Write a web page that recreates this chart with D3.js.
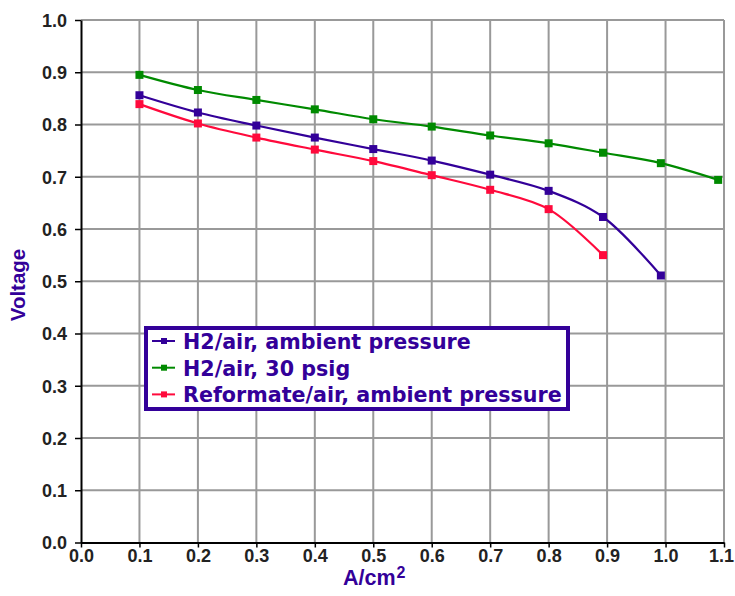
<!DOCTYPE html>
<html><head><meta charset="utf-8">
<script src="https://cdn.jsdelivr.net/npm/d3@7"></script>
<style>body{margin:0;background:#fff}svg{display:block}</style>
</head><body><svg id="c" width="735" height="596"></svg>
<script>
const xValues = [0.1,0.2,0.3,0.4,0.5,0.6,0.7,0.8,0.893,0.992,1.09];
const h2Ambient = [0.856,0.823,0.798,0.775,0.753,0.731,0.704,0.673,0.623,0.511];
const h2Psig = [0.895,0.866,0.847,0.829,0.810,0.796,0.779,0.764,0.746,0.726,0.694];
const reformate = [0.839,0.802,0.775,0.752,0.730,0.703,0.675,0.638,0.550];
const seriesNames = ["H2/air, ambient pressure","H2/air, 30 psig","Reformate/air, ambient pressure"];
const seriesColors = ["#330099","#008a00","#ff0a3c"];
const xTicks = [0,0.1,0.2,0.3,0.4,0.5,0.6,0.7,0.8,0.9,1.0,1.1];
const yTicks = [0,0.1,0.2,0.3,0.4,0.5,0.6,0.7,0.8,0.9,1.0];

const svg = d3.select("#c");
const L=81,R=724,T=20,B=542.5;
const x = d3.scaleLinear().domain([0,1.1]).range([L,R]);
const y = d3.scaleLinear().domain([0,1.0]).range([B,T]);

// grid
svg.append("g").selectAll("line").data(xTicks.slice(1)).join("line")
 .attr("x1",d=>x(d)).attr("x2",d=>x(d)).attr("y1",T).attr("y2",B)
 .attr("stroke","#999").attr("stroke-width",2);
svg.append("g").selectAll("line").data(yTicks.slice(1)).join("line")
 .attr("x1",L).attr("x2",R).attr("y1",d=>y(d)).attr("y2",d=>y(d))
 .attr("stroke","#999").attr("stroke-width",2);

const fnt = "'Liberation Sans',Arial,sans-serif";
const xa = svg.append("g").attr("transform",`translate(0,${B})`)
 .call(d3.axisBottom(x).tickValues(xTicks).tickFormat(d3.format(".1f")).tickSize(5).tickSizeOuter(0));
const ya = svg.append("g").attr("transform",`translate(${L},0)`)
 .call(d3.axisLeft(y).tickValues(yTicks).tickFormat(d3.format(".1f")).tickSize(6).tickSizeOuter(0));
[xa,ya].forEach(a=>{
 a.select(".domain").attr("stroke","#000").attr("stroke-width",2);
 a.selectAll(".tick line").attr("stroke","#000").attr("stroke-width",1.5);
 a.selectAll("text").attr("font-family",fnt).attr("font-weight","bold").attr("font-size",18).attr("fill","#222");
});
xa.selectAll("text").attr("dy","0.72em").attr("y",7);
xa.selectAll(".tick text").filter(d=>d===1.1).attr("dx",-3);
ya.selectAll("text").attr("x",-14).attr("dy","0.36em");

const all = [h2Ambient,h2Psig,reformate];
const line = d3.line().x((d,i)=>x(xValues[i])).y(d=>y(d)).curve(d3.curveCatmullRom.alpha(0.5));
all.forEach((s,k)=>{
 const g = svg.append("g");
 g.append("path").datum(s).attr("d",line).attr("fill","none").attr("stroke",seriesColors[k]).attr("stroke-width",2.2);
 g.selectAll("rect").data(s).join("rect")
  .attr("x",(d,i)=>x(xValues[i])-4).attr("y",d=>y(d)-4).attr("width",8).attr("height",8)
  .attr("fill",seriesColors[k]);
});

// legend
const lg = svg.append("g");
lg.append("rect").attr("x",146).attr("y",328).attr("width",422).attr("height",81)
 .attr("fill","#fff").attr("stroke","#330099").attr("stroke-width",4);
seriesNames.forEach((n,k)=>{
 const yy = 341 + k*26.7;
 lg.append("line").attr("x1",152).attr("x2",175).attr("y1",yy).attr("y2",yy).attr("stroke",seriesColors[k]).attr("stroke-width",2);
 lg.append("rect").attr("x",161).attr("y",yy-3).attr("width",6).attr("height",6).attr("fill",seriesColors[k]);
 lg.append("text").attr("x",183).attr("y",yy+8).text(n)
  .attr("font-family","'DejaVu Sans',Verdana,sans-serif").attr("font-weight","bold").attr("font-size",20).attr("fill","#330099");
});
// fit longest legend label to reference width
const texts = lg.selectAll("text");
let maxW = 0; texts.each(function(){ maxW = Math.max(maxW,this.getComputedTextLength()); });
if (maxW>0) texts.attr("font-size", 20*379/maxW);

// axis titles
svg.append("text").attr("transform","translate(25,285) rotate(-90)").attr("text-anchor","middle")
 .attr("font-family",fnt).attr("font-weight","bold").attr("font-size",20.5).attr("fill","#330099").text("Voltage");
const xt = svg.append("text").attr("x",343).attr("y",585)
 .attr("font-family",fnt).attr("font-weight","bold").attr("font-size",21.5).attr("fill","#330099");
xt.append("tspan").text("A/cm");
xt.append("tspan").text("2").attr("dx",1).attr("dy",-7).attr("font-size",16);
</script></body></html>
